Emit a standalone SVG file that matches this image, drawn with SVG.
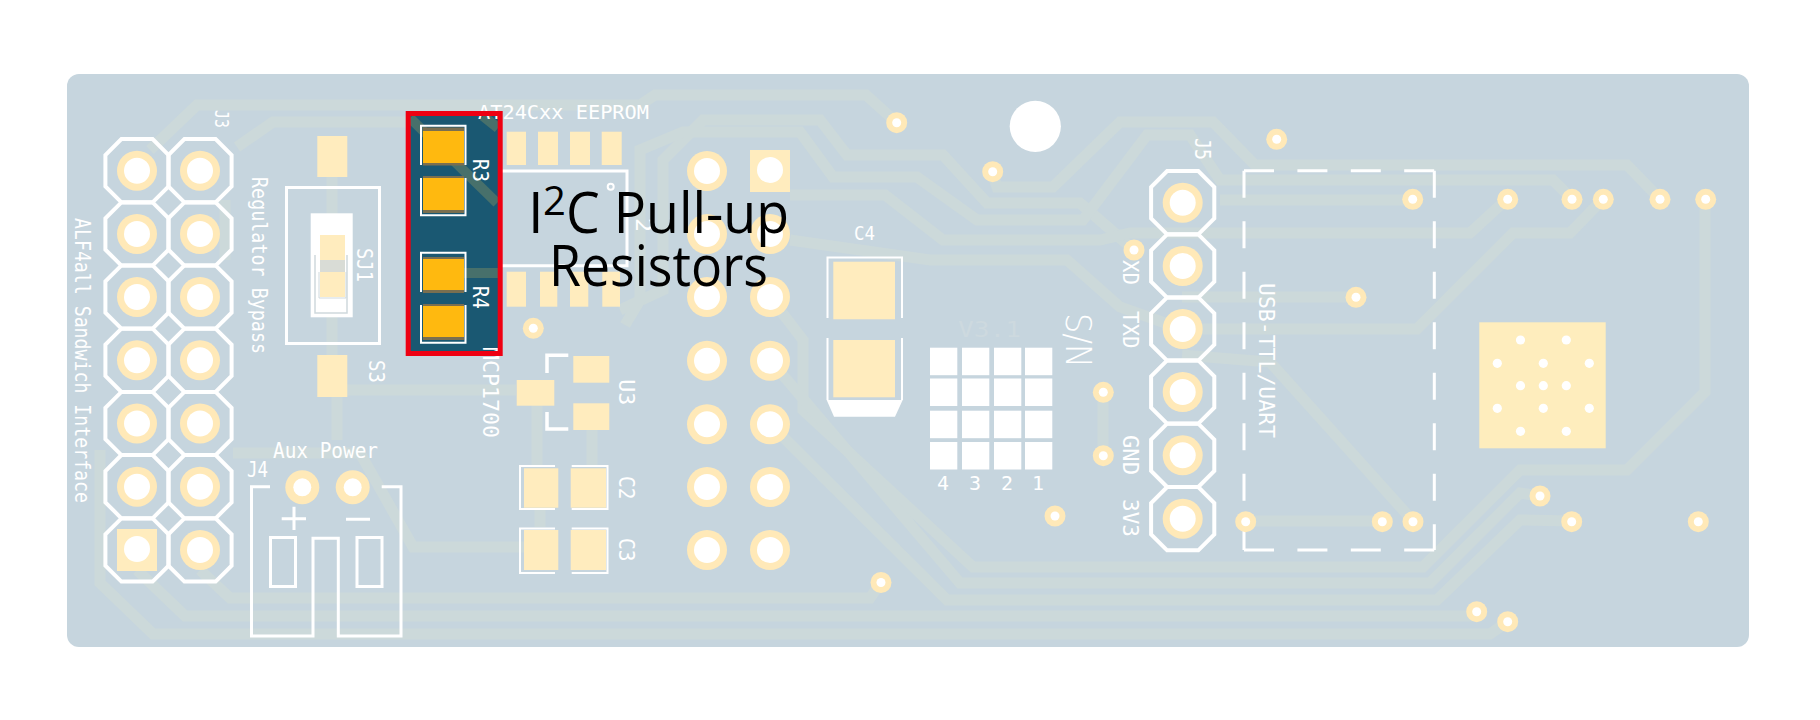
<svg xmlns="http://www.w3.org/2000/svg" xmlns:xlink="http://www.w3.org/1999/xlink" width="1820" height="720" viewBox="0 0 1820 720">
<style>
.tr{fill:none;stroke:#ccd9da;stroke-width:11;stroke-linejoin:miter}
.btr{fill:none;stroke:#47706b;stroke-width:10}
.pad{fill:#ffecbe}
.silk{fill:none;stroke:#fff;stroke-width:3}
.oc{fill:none;stroke:#fff;stroke-width:4}
.thin{fill:none;stroke:#fff;stroke-width:2}
.dv{fill:none;stroke:#fff;stroke-width:3;stroke-dasharray:27 23.5}
.dh{fill:none;stroke:#fff;stroke-width:3;stroke-dasharray:30 23.4}
.t{font-family:"DejaVu Sans Mono","Liberation Mono",monospace;font-size:22px;fill:#fff}
.big{font-family:"Open Sans","Noto Sans",sans-serif;font-size:56px;fill:#000}
.wh{fill:#fff}
.br{fill:#7a6f50}
.or{fill:#ffb90f}
</style>
<defs>
<g id="oct"><polygon points="-15.6,-31.6 15.6,-31.6 31.6,-15.6 31.6,15.6 15.6,31.6 -15.6,31.6 -31.6,15.6 -31.6,-15.6" class="oc"/></g>
<g id="tht"><circle r="20" fill="#ffe9b8"/><circle r="13" fill="#fff"/></g>
<g id="sq"><rect x="-20" y="-20" width="40" height="42" fill="#ffecbe"/><circle r="13" fill="#fff"/></g>
<g id="via"><circle r="10.5" fill="#ffe9b8"/><circle r="4.5" fill="#fff"/></g>
<g id="aux"><circle r="17" fill="#ffe9b8"/><circle r="9" fill="#fff"/></g>
<circle id="h" r="4.6" fill="#fff"/>
<rect id="cell" width="27.3" height="27.5" fill="#fff"/>
</defs>

<rect id="board" x="67" y="74" width="1682" height="573" rx="12" fill="#c6d5de"/>
<circle id="mount" cx="1035.3" cy="126.3" r="25.6" fill="#fff"/>

<g id="connectors">
<path class="tr" d="M150,150 L197,105 H640 L655,95 H866 L896,122"/>
<path class="tr" d="M237,147 L273,122 H410"/>
<path class="tr" d="M620,310 L663,290 V160 L703,120 H820 L847,155 H943 L987,203 H1080 L1134,250"/>
<path class="tr" d="M625,325 L640,300 V150 L683,132 H800 L833,177 H917 L977,220 H1083 L1147,135 H1190 L1220,180 H1553 L1572,199"/>
<path class="tr" d="M992,172 L997,187 H1053 L1120,122 H1213 L1255,165 H1627 L1660,199"/>
<path class="tr" d="M790,195 H885 L943,240 H1100 L1130,233 H1470 L1507,199"/>
<path class="tr" d="M790,240 L930,260 H1067 L1120,307 L1182,329 H1417 L1513,233 H1570 L1603,199"/>
<path class="tr" d="M1220,200 H1412"/>
<path class="tr" d="M1182,297 H1356"/>
<path class="tr" d="M1182,355 L1270,362 L1413,521"/>
<path class="tr" d="M1245,521 H1382"/>
<path class="tr" d="M1103,392 V456"/>
<path class="tr" d="M770,297 L803,340 V410 L973,567 H1423 L1520,470 H1627 L1705,392 V199"/>
<path class="tr" d="M770,360 L960,583 H1430 L1520,493 L1540,496"/>
<path class="tr" d="M770,424 L947,600 H1437 L1520,520 L1571,521"/>
<path class="tr" d="M200,570 L230,598 H870 L881,582"/>
<path class="tr" d="M137,570 L185,616 H1470 L1476,612"/>
<path class="tr" d="M100,450 V583 L153,634 H1490 L1507,622"/>
<path class="tr" d="M233,453 H360 L413,547 H525"/>
<path class="tr" d="M332,176 V355"/>
<path class="tr" d="M337,397 V440"/>
<path class="tr" d="M347,390 H516"/>
<path class="tr" d="M537,405 V465"/>
<path class="tr" d="M592,430 V465"/>
<path class="tr" d="M540,509 V527"/>
<path class="tr" d="M225,200 V260"/>
</g>

<g id="pullup-bg">
<rect x="408" y="113.5" width="92" height="240" fill="#1a5872"/>
<path class="btr" d="M410,118 L497,203"/>
<path class="btr" d="M483,116 L498,128"/>
<path class="btr" d="M464,273 H498"/>
</g>

<g id="J3">
<use href="#oct" x="137" y="170.7"/><use href="#oct" x="200" y="170.7"/>
<use href="#oct" x="137" y="234"/><use href="#oct" x="200" y="234"/>
<use href="#oct" x="137" y="297"/><use href="#oct" x="200" y="297"/>
<use href="#oct" x="137" y="360.3"/><use href="#oct" x="200" y="360.3"/>
<use href="#oct" x="137" y="423.5"/><use href="#oct" x="200" y="423.5"/>
<use href="#oct" x="137" y="486.7"/><use href="#oct" x="200" y="486.7"/>
<use href="#oct" x="137" y="550"/><use href="#oct" x="200" y="550"/>
<use href="#tht" x="137" y="170.7"/><use href="#tht" x="200" y="170.7"/>
<use href="#tht" x="137" y="234"/><use href="#tht" x="200" y="234"/>
<use href="#tht" x="137" y="297"/><use href="#tht" x="200" y="297"/>
<use href="#tht" x="137" y="360.3"/><use href="#tht" x="200" y="360.3"/>
<use href="#tht" x="137" y="423.5"/><use href="#tht" x="200" y="423.5"/>
<use href="#tht" x="137" y="486.7"/><use href="#tht" x="200" y="486.7"/>
<use href="#sq" x="137" y="549"/><use href="#tht" x="200" y="550"/>
<text class="t" transform="translate(215,110) rotate(90)" textLength="18" lengthAdjust="spacingAndGlyphs" style="font-size:20px">J3</text>
<text class="t" transform="translate(75,218) rotate(90)" textLength="285" lengthAdjust="spacingAndGlyphs">ALF4all Sandwich Interface</text>
</g>

<g id="S3">
<rect class="pad" x="317.3" y="136" width="30" height="41"/>
<rect class="pad" x="317.3" y="355" width="30" height="42"/>
<rect class="silk" x="286.5" y="187.5" width="93" height="156"/>
<rect class="wh" x="310.7" y="213.3" width="42" height="104"/>
<rect class="pad" x="320" y="235" width="25" height="62"/>
<rect x="320" y="260" width="25" height="12" fill="#d9dcd6"/>
<path d="M315,255 V313 H347 V255" fill="none" stroke="#cfd9dd" stroke-width="1.5"/>
<path d="M319,272 V298 H346 V272" fill="none" stroke="#cfd9dd" stroke-width="1"/>
<text class="t" transform="translate(252,177) rotate(90)" textLength="177" lengthAdjust="spacingAndGlyphs">Regulator Bypass</text>
<text class="t" transform="translate(357,248) rotate(90)" textLength="34" lengthAdjust="spacingAndGlyphs">SJ1</text>
<text class="t" transform="translate(369,360) rotate(90)" textLength="23" lengthAdjust="spacingAndGlyphs">S3</text>
</g>

<g id="J4">
<path class="silk" d="M270,486.7 H251.5 V636 H313 V538.3 H338.3 V636 H401 V486.7 H381.7"/>
<rect class="silk" x="270.5" y="537.5" width="25" height="49"/>
<rect class="silk" x="357" y="537.5" width="25" height="49"/>
<path class="silk" d="M281.7,518.7 H306 M294,506.7 V530 M346,519.3 H370"/>
<use href="#aux" x="302.3" y="487.3"/><use href="#aux" x="352.7" y="487.3"/>
<text class="t" x="273" y="458" textLength="105" lengthAdjust="spacingAndGlyphs">Aux Power</text>
<text class="t" x="247" y="476.7" textLength="21" lengthAdjust="spacingAndGlyphs">J4</text>
</g>

<g id="U2">
<rect class="pad" x="506.7" y="131.7" width="19.3" height="33.3"/>
<rect class="pad" x="538" y="131.7" width="20" height="33.3"/>
<rect class="pad" x="570" y="131.7" width="20" height="33.3"/>
<rect class="pad" x="601.7" y="131.7" width="20" height="33.3"/>
<rect class="pad" x="506.7" y="271.7" width="19.3" height="35"/>
<rect class="pad" x="540" y="271.7" width="17.3" height="35"/>
<rect class="pad" x="570" y="271.7" width="18.3" height="35"/>
<rect class="pad" x="602.3" y="271.7" width="17.7" height="35"/>
<path class="silk" d="M500,171 H627 V265.7 H500"/>
<circle class="thin" cx="610.7" cy="186.7" r="3"/>
<text class="t" transform="translate(636,218) rotate(90)" textLength="14" lengthAdjust="spacingAndGlyphs">2</text>
<text class="t" x="478" y="119.3" textLength="171" lengthAdjust="spacingAndGlyphs" style="font-size:20px">AT24Cxx EEPROM</text>
</g>

<g id="MCP1700">
<text class="t" transform="translate(483,347) rotate(90)" textLength="91" lengthAdjust="spacingAndGlyphs">MCP1700</text>
</g>

<g id="R3">
<rect class="br" x="423" y="127.5" width="41" height="38"/>
<rect class="or" x="423" y="131" width="41" height="32"/>
<rect class="br" x="423" y="176" width="41" height="37"/>
<rect class="or" x="423" y="178" width="41" height="32"/>
<path class="thin" d="M421,165 V125.7 H465.5 V165 M421,178 V215.3 H465.5 V178"/>
<text class="t" transform="translate(473,159) rotate(90)" textLength="23" lengthAdjust="spacingAndGlyphs">R3</text>
</g>
<g id="R4">
<rect class="br" x="423" y="257" width="41" height="36"/>
<rect class="or" x="423" y="259" width="41" height="31"/>
<rect class="br" x="423" y="304" width="41" height="36"/>
<rect class="or" x="423" y="306" width="41" height="31"/>
<path class="thin" d="M421,292 V252.7 H465.5 V292 M421,305 V342.7 H465.5 V305"/>
<text class="t" transform="translate(473,286) rotate(90)" textLength="23" lengthAdjust="spacingAndGlyphs">R4</text>
</g>
<g id="pullup-box"><rect x="408.2" y="113.5" width="92" height="240" fill="none" stroke="#ee0012" stroke-width="5"/></g>

<g id="U3">
<rect class="pad" x="573.3" y="356" width="36" height="26.7"/>
<rect class="pad" x="573.3" y="403.3" width="36" height="26.7"/>
<rect class="pad" x="516.7" y="380" width="37.6" height="25.7"/>
<path class="silk" d="M568.3,355.3 H547 V373 M547,412 V429 H568.3" style="stroke-width:3.5"/>
<text class="t" transform="translate(619,379.3) rotate(90)" textLength="26" lengthAdjust="spacingAndGlyphs">U3</text>
</g>

<g id="C2">
<rect class="pad" x="524" y="468.3" width="34.3" height="39.4"/>
<rect class="pad" x="570.7" y="468.3" width="35.3" height="39.4"/>
<path class="thin" d="M555,466 H520 V509 H555 M571.7,466 H607.5 V509 H571.7"/>
<text class="t" transform="translate(619,476) rotate(90)" textLength="23.5" lengthAdjust="spacingAndGlyphs">C2</text>
</g>
<g id="C3">
<rect class="pad" x="524" y="530" width="34.3" height="40"/>
<rect class="pad" x="570.7" y="530" width="35.3" height="40"/>
<path class="thin" d="M555,528.5 H520 V573 H555 M571.7,528.5 H607.5 V573 H571.7"/>
<text class="t" transform="translate(619,538) rotate(90)" textLength="23.5" lengthAdjust="spacingAndGlyphs">C3</text>
</g>

<g id="headers-mid">
<use href="#tht" x="707" y="171"/><use href="#sq" x="770" y="170"/>
<use href="#tht" x="707" y="234"/><use href="#tht" x="770" y="234"/>
<use href="#tht" x="707" y="297"/><use href="#tht" x="770" y="297"/>
<use href="#tht" x="707" y="360.7"/><use href="#tht" x="770" y="360.7"/>
<use href="#tht" x="707" y="424.3"/><use href="#tht" x="770" y="424.3"/>
<use href="#tht" x="707" y="487"/><use href="#tht" x="770" y="487"/>
<use href="#tht" x="707" y="550"/><use href="#tht" x="770" y="550"/>
</g>

<g id="C4">
<rect class="pad" x="833.3" y="261.7" width="61.7" height="57.6"/>
<rect class="pad" x="833.3" y="340" width="61.7" height="57.3"/>
<path class="thin" d="M827.5,318 V257.5 H902 V318 M827.5,338 V400 M902,338 V400"/>
<polygon class="wh" points="826.7,400 902.7,400 895,416.7 834,416.7"/>
<text class="t" x="854" y="240" textLength="21" lengthAdjust="spacingAndGlyphs" style="font-size:20px">C4</text>
</g>

<g id="SN">
<use href="#cell" x="930" y="347.7"/><use href="#cell" x="962" y="347.7"/><use href="#cell" x="994" y="347.7"/><use href="#cell" x="1025" y="347.7"/>
<use href="#cell" x="930" y="378.5"/><use href="#cell" x="962" y="378.5"/><use href="#cell" x="994" y="378.5"/><use href="#cell" x="1025" y="378.5"/>
<use href="#cell" x="930" y="410.7"/><use href="#cell" x="962" y="410.7"/><use href="#cell" x="994" y="410.7"/><use href="#cell" x="1025" y="410.7"/>
<use href="#cell" x="930" y="442"/><use href="#cell" x="962" y="442"/><use href="#cell" x="994" y="442"/><use href="#cell" x="1025" y="442"/>
<text class="t" x="937" y="490" style="font-size:20px" textLength="12" lengthAdjust="spacingAndGlyphs">4</text>
<text class="t" x="969" y="490" style="font-size:20px" textLength="12" lengthAdjust="spacingAndGlyphs">3</text>
<text class="t" x="1001" y="490" style="font-size:20px" textLength="12" lengthAdjust="spacingAndGlyphs">2</text>
<text class="t" x="1032" y="490" style="font-size:20px" textLength="12" lengthAdjust="spacingAndGlyphs">1</text>
<text class="t" x="958" y="337" textLength="63" lengthAdjust="spacingAndGlyphs" style="fill:#cdd9df">V3.1</text>
<text transform="translate(1066,313) rotate(90)" textLength="55" lengthAdjust="spacingAndGlyphs" style="font-family:'DejaVu Sans',sans-serif;font-weight:200;font-size:36px;fill:#fff">S/N</text>
</g>

<g id="J5">
<use href="#oct" x="1182.7" y="202.7"/><use href="#oct" x="1182.7" y="266"/><use href="#oct" x="1182.7" y="329"/><use href="#oct" x="1182.7" y="392"/><use href="#oct" x="1182.7" y="455.3"/><use href="#oct" x="1182.7" y="518.7"/>
<use href="#tht" x="1182.7" y="202.7"/><use href="#tht" x="1182.7" y="266"/><use href="#tht" x="1182.7" y="329"/><use href="#tht" x="1182.7" y="392"/><use href="#tht" x="1182.7" y="455.3"/><use href="#tht" x="1182.7" y="518.7"/>
<text class="t" transform="translate(1195,138) rotate(90)" textLength="22" lengthAdjust="spacingAndGlyphs">J5</text>
<text class="t" transform="translate(1123,260) rotate(90)" textLength="25" lengthAdjust="spacingAndGlyphs">XD</text>
<text class="t" transform="translate(1123,311) rotate(90)" textLength="37.5" lengthAdjust="spacingAndGlyphs">TXD</text>
<text class="t" transform="translate(1123,435) rotate(90)" textLength="40" lengthAdjust="spacingAndGlyphs">GND</text>
<text class="t" transform="translate(1123,499) rotate(90)" textLength="38" lengthAdjust="spacingAndGlyphs">3V3</text>
</g>

<g id="USB-TTL">
<path class="dh" d="M1244,170.7 H1434.3"/>
<path class="dh" d="M1244,550 H1434.3"/>
<path class="dv" d="M1244,170.7 V550"/>
<path class="dv" d="M1434.3,170.7 V550"/>
<text class="t" transform="translate(1259,283) rotate(90)" textLength="155" lengthAdjust="spacingAndGlyphs">USB-TTL/UART</text>
</g>

<g id="thermal">
<rect x="1479.3" y="322.3" width="126.4" height="126" fill="#feedbd"/>
<use href="#h" x="1520.5" y="340"/><use href="#h" x="1566.3" y="340"/>
<use href="#h" x="1497.3" y="363.3"/><use href="#h" x="1543.3" y="363.3"/><use href="#h" x="1589.3" y="363.3"/>
<use href="#h" x="1520.5" y="385.7"/><use href="#h" x="1543.3" y="385.7"/><use href="#h" x="1566.3" y="385.7"/>
<use href="#h" x="1497.3" y="408.3"/><use href="#h" x="1543.3" y="408.3"/><use href="#h" x="1589.3" y="408.3"/>
<use href="#h" x="1520.5" y="431.3"/><use href="#h" x="1566.3" y="431.3"/>
</g>

<g id="vias">
<use href="#via" x="896.7" y="122.7"/><use href="#via" x="992.7" y="171.7"/><use href="#via" x="1276.7" y="139.3"/>
<use href="#via" x="1134" y="250"/><use href="#via" x="1356" y="297.3"/><use href="#via" x="1103.3" y="392.3"/>
<use href="#via" x="1103.3" y="455.7"/><use href="#via" x="1055" y="516"/><use href="#via" x="1245.7" y="521.7"/>
<use href="#via" x="881" y="582.5"/><use href="#via" x="1382.3" y="521.7"/><use href="#via" x="1413" y="521.7"/>
<use href="#via" x="1412.7" y="199.3"/><use href="#via" x="1507.7" y="199.3"/><use href="#via" x="1572" y="199.3"/>
<use href="#via" x="1603.3" y="199.3"/><use href="#via" x="1660" y="199.3"/><use href="#via" x="1705.7" y="199.3"/>
<use href="#via" x="1540" y="496"/><use href="#via" x="1571.7" y="521.7"/>
<use href="#via" x="1698.3" y="521.7"/><use href="#via" x="1476.7" y="611.7"/><use href="#via" x="1507.7" y="621.7"/>
<use href="#via" x="533.3" y="328.3"/>
</g>

<g id="callout">
<text class="big"><tspan x="528" y="233">I</tspan><tspan x="543" y="215" style="font-size:40px">2</tspan><tspan x="566" y="233" textLength="223" lengthAdjust="spacingAndGlyphs">C Pull-up</tspan></text>
<text class="big" x="549" y="286" textLength="219" lengthAdjust="spacingAndGlyphs">Resistors</text>
</g>
</svg>
